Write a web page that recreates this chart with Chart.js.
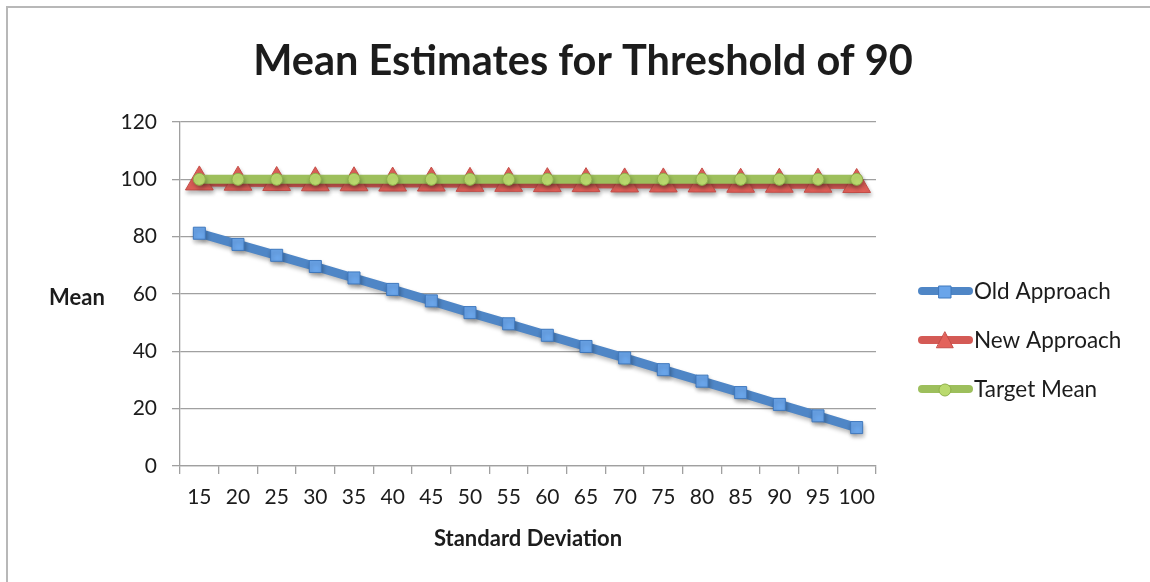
<!DOCTYPE html>
<html>
<head>
<meta charset="utf-8">
<script src="https://cdn.jsdelivr.net/npm/chart.js@4.4.0/dist/chart.umd.min.js"></script>
<style>
  html, body { margin: 0; padding: 0; background: #fff; }
  #wrap { position: relative; width: 1150px; height: 582px; }
  #frame { position: absolute; left: 6px; top: 6px; width: 1144px; height: 576px;
           border-top: 2px solid #b8b8b8; border-left: 2px solid #b8b8b8; pointer-events: none; }
  canvas { position: absolute; left: 0; top: 0; }
</style>
</head>
<body>
<div id="wrap">
  <canvas id="meanChart" width="1150" height="582"></canvas>
  <div id="frame"></div>
</div>
<script>
// data
const stdDevLabels = ['15', '20', '25', '30', '35', '40', '45', '50', '55', '60',
                      '65', '70', '75', '80', '85', '90', '95', '100'];
const oldApproach = [81.2, 77.3, 73.5, 69.6, 65.6, 61.6, 57.6, 53.5, 49.6, 45.6,
                     41.7, 37.7, 33.6, 29.6, 25.6, 21.5, 17.5, 13.4];
const newApproach = [99.1, 99.0, 98.9, 98.8, 98.8, 98.7, 98.7, 98.6, 98.6, 98.5,
                     98.5, 98.4, 98.4, 98.4, 98.3, 98.3, 98.3, 98.2];
const targetMean = [100, 100, 100, 100, 100, 100, 100, 100, 100, 100,
                    100, 100, 100, 100, 100, 100, 100, 100];
const yTicks = [0, 20, 40, 60, 80, 100, 120];

const FONT = 'Lato, "Open Sans", sans-serif';
const TEXT = '#1c1c1c';
const GRID = '#a0a0a0';

// soft drop shadow under the series, like the office chart
const shadowPlugin = {
  id: 'shadow',
  beforeDatasetDraw(chart) {
    const ctx = chart.ctx;
    ctx.save();
    ctx.shadowColor = 'rgba(0,0,0,0.28)';
    ctx.shadowBlur = 4;
    ctx.shadowOffsetX = 1;
    ctx.shadowOffsetY = 3;
  },
  afterDatasetDraw(chart) {
    chart.ctx.restore();
  }
};

function drawMarker(ctx, style, x, y, size, fill, stroke) {
  ctx.fillStyle = fill;
  ctx.strokeStyle = stroke;
  ctx.lineWidth = 1;
  ctx.beginPath();
  if (style === 'rect') {
    ctx.rect(x - size / 2, y - size / 2, size, size);
  } else if (style === 'triangle') {
    ctx.moveTo(x, y - size * 0.6);
    ctx.lineTo(x + size * 0.55, y + size * 0.45);
    ctx.lineTo(x - size * 0.55, y + size * 0.45);
    ctx.closePath();
  } else {
    ctx.arc(x, y, size / 2, 0, Math.PI * 2);
  }
  ctx.fill();
  ctx.stroke();
}

// title, horizontal "Mean" label and the right-hand legend
const textPlugin = {
  id: 'texts',
  afterDraw(chart) {
    const ctx = chart.ctx;
    const area = chart.chartArea;
    ctx.save();
    ctx.fillStyle = TEXT;
    ctx.textAlign = 'center';
    ctx.textBaseline = 'middle';
    ctx.font = 'bold 41.5px ' + FONT;
    ctx.fillText('Mean Estimates for Threshold of 90', 583, 62);

    ctx.font = 'bold 22px ' + FONT;
    ctx.fillText('Mean', 77, (area.top + area.bottom) / 2 + 4);

    // legend
    chart.data.datasets.forEach((ds, i) => {
      const y = 291 + i * 49;
      ctx.strokeStyle = ds.borderColor;
      ctx.lineWidth = 8;
      ctx.lineCap = 'round';
      ctx.beginPath();
      ctx.moveTo(922, y);
      ctx.lineTo(969, y);
      ctx.stroke();
      drawMarker(ctx, ds.pointStyle, 945, y + 1, ds.pointStyle === 'triangle' ? 15 : 12,
                 ds.pointBackgroundColor, ds.pointBorderColor);
      ctx.fillStyle = TEXT;
      ctx.font = '22.5px ' + FONT;
      ctx.textAlign = 'left';
      ctx.fillText(ds.label, 974, y + 1);
    });
    ctx.restore();
  }
};

const ctx = document.getElementById('meanChart').getContext('2d');
const meanChart = new Chart(ctx, {
  type: 'line',
  data: {
    labels: stdDevLabels,
    datasets: [
      {
        label: 'Old Approach',
        data: oldApproach,
        borderColor: '#4f86c6',
        borderWidth: 9,
        pointStyle: 'rect',
        pointRadius: 8.5,
        pointBackgroundColor: '#6aa5ea',
        pointBorderColor: '#3f78bd',
        pointBorderWidth: 1,
        order: 3
      },
      {
        label: 'New Approach',
        data: newApproach,
        borderColor: '#d45a55',
        borderWidth: 9,
        pointStyle: 'triangle',
        pointRadius: 16,
        pointBackgroundColor: '#e3625b',
        pointBorderColor: '#c44d48',
        pointBorderWidth: 1,
        order: 2
      },
      {
        label: 'Target Mean',
        data: targetMean,
        borderColor: '#9dbf5c',
        borderWidth: 9,
        pointStyle: 'circle',
        pointRadius: 6,
        pointBackgroundColor: '#bada6e',
        pointBorderColor: '#8fb04b',
        pointBorderWidth: 1,
        order: 1
      }
    ]
  },
  options: {
    responsive: false,
    animation: false,
    layout: { padding: { top: 122, right: 274, bottom: 0, left: 0 } },
    plugins: {
      legend: { display: false },
      tooltip: { enabled: false }
    },
    scales: {
      x: {
        offset: true,
        afterFit(scale) { scale.height = 116; },
        grid: { drawOnChartArea: false, offset: true, tickLength: 8, color: GRID, lineWidth: 1.3 },
        border: { color: GRID, width: 1.3 },
        ticks: { color: TEXT, font: { family: FONT, size: 21 }, padding: 11, maxRotation: 0, autoSkip: false },
        title: {
          display: true,
          text: 'Standard Deviation',
          color: TEXT,
          font: { family: FONT, size: 22, weight: 'bold' },
          padding: { top: 0, bottom: 30 }
        }
      },
      y: {
        min: 0,
        max: 120,
        afterFit(scale) { scale.width = 180; },
        afterBuildTicks(scale) { scale.ticks = yTicks.map(v => ({ value: v })); },
        grid: { tickLength: 8, color: GRID, lineWidth: 1.3 },
        border: { color: GRID, width: 1.3 },
        ticks: { color: TEXT, font: { family: FONT, size: 21 }, padding: 15 }
      }
    }
  },
  plugins: [shadowPlugin, textPlugin]
});
</script>
</body>
</html>
